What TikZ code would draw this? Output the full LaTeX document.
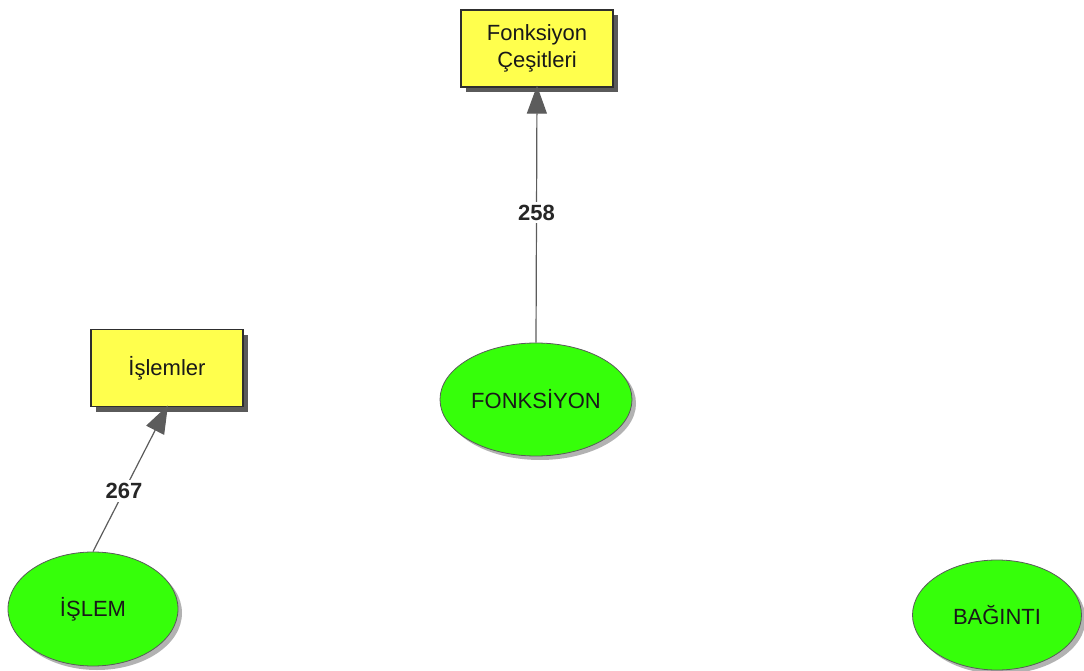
\documentclass[tikz,border=0pt]{standalone}
\usepackage{fontspec}
\setmainfont{Liberation Sans}
\usetikzlibrary{shapes.geometric,shadows,arrows.meta}
\definecolor{boxyellow}{HTML}{FFFF4D}
\definecolor{boxborder}{HTML}{2E2E2E}
\definecolor{boxshadow}{HTML}{5A5A5A}
\definecolor{ellgreen}{HTML}{36FF0A}
\definecolor{ellborder}{HTML}{5A5A5A}
\definecolor{linegray}{HTML}{5C5C5C}
\tikzset{
  txt/.style={font=\fontsize{22}{27}\selectfont, text=black!90, align=center},
  notebox/.style={txt, rectangle, draw=boxborder, line width=1.3pt, fill=boxyellow,
    minimum width=152pt, minimum height=77pt, inner sep=0pt,
    drop shadow={shadow xshift=5pt, shadow yshift=-5pt, fill=boxshadow, opacity=1}},
  concept/.style={txt, ellipse, draw=ellborder, line width=0.8pt, fill=ellgreen, inner sep=0pt,
    drop shadow={shadow xshift=4pt, shadow yshift=-4pt, fill=black, opacity=0.3}},
  link/.style={draw=linegray, line width=1.2pt,
    -{Triangle[length=28pt, width=20pt, fill=linegray]}, shorten >=-2pt},
  lbl/.style={font=\fontsize{22}{24}\selectfont\bfseries, text=black!85, fill=white, inner sep=3pt}
}
\begin{document}
\begin{tikzpicture}[x=1pt, y=-1pt]
\useasboundingbox (0,0) rectangle (1084,671);
\node[notebox] (cesit) at (537,48.5) {Fonksiyon\\Çeşitleri};
\node[notebox] (islemler) at (167,368) {İşlemler};
\node[concept, minimum width=192pt, minimum height=113pt] (fonk) at (536,399.5) {FONKSİYON};
\node[concept, minimum width=170pt, minimum height=114pt] (islem) at (93,609) {İŞLEM};
\node[concept, minimum width=169pt, minimum height=110pt] (bag) at (997,615) {BAĞINTI};
\draw[link] (fonk.north) -- node[lbl, pos=0.51] (l258) {258} (cesit.south);
\draw[link] (islem.north) -- node[lbl, pos=0.42] (l267) {267} (islemler.south);
\end{tikzpicture}
\end{document}
